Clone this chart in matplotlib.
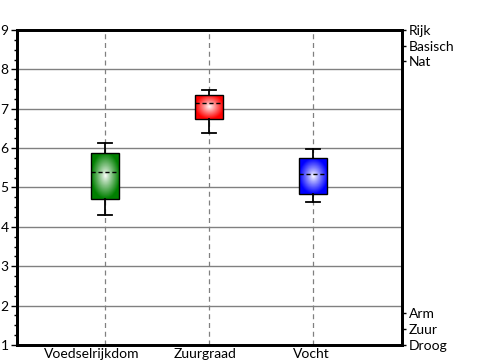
import numpy as np
import matplotlib.pyplot as plt
import matplotlib.transforms as mtrans
from matplotlib.ticker import MultipleLocator

plt.rcParams['font.family'] = ['Lato', 'DejaVu Sans']

# data
cats = ['Voedselrijkdom', 'Zuurgraad', 'Vocht']
whis_lo = [4.30, 6.39, 4.62]
q1 = [4.70, 6.73, 4.83]
med = [5.39, 7.14, 5.35]
q3 = [5.87, 7.35, 5.74]
whis_hi = [6.12, 7.47, 5.97]
cols = [(0.0, 0.5, 0.0), (1.0, 0.0, 0.0), (0.0, 0.0, 1.0)]
right_top = ['Rijk', 'Basisch', 'Nat']
right_bot = ['Arm', 'Zuur', 'Droog']

fig = plt.figure(figsize=(5, 3.6), dpi=100)
ax = fig.add_axes([0.034, 0.0417, 0.77, 0.875])

pos = np.arange(1, len(cats) + 1)
stats = []
for i in range(len(cats)):
    stats.append({'whislo': whis_lo[i], 'q1': q1[i], 'med': med[i],
                  'q3': q3[i], 'whishi': whis_hi[i], 'fliers': []})

bp = ax.bxp(stats, positions=pos, widths=0.27, patch_artist=True,
            showfliers=False,
            boxprops=dict(edgecolor='black', linewidth=1),
            medianprops=dict(color='black', linestyle=(0, (3, 2)), linewidth=1),
            whiskerprops=dict(color='black', linewidth=1.3),
            capprops=dict(color='black', linewidth=1.3),
            zorder=3)

# radial gradient fill
n = 60
yy, xx = np.mgrid[-1:1:n*1j, -1:1:n*1j]
r = np.clip(np.sqrt(xx**2 + yy**2), 0, 1)
for i, patch in enumerate(bp['boxes']):
    patch.set_facecolor('none')
    c = np.array(cols[i])
    t = r[..., None] ** 0.9
    img = (1 - t) * np.array([1, 1, 1]) + t * c
    x0 = pos[i] - 0.135
    im = ax.imshow(img, extent=[x0, x0 + 0.27, q1[i], q3[i]], aspect='auto',
                   zorder=2.5, interpolation='bilinear')
    im.set_clip_path(patch)

ax.set_xlim(0.154, 3.856)
ax.set_ylim(1, 9)
ax.set_xticks(pos)
ax.set_xticklabels(cats, fontsize=10)
ax.tick_params(axis='x', length=0, pad=2)
# labels sit a bit left of the category in the original
shifts = [-13, -4, -2]
for lab, dx in zip(ax.get_xticklabels(), shifts):
    lab.set_transform(lab.get_transform() + mtrans.ScaledTranslation(dx / 100, 0, fig.dpi_scale_trans))

ax.yaxis.set_major_locator(MultipleLocator(1))
ax.yaxis.set_minor_locator(MultipleLocator(0.25))
ax.tick_params(axis='y', which='major', length=4, width=1, labelsize=10, pad=2)
ax.tick_params(axis='y', which='minor', length=2, width=1)

for y in range(2, 9):
    ax.axhline(y, color='#808080', linewidth=1, zorder=1)
for x in pos:
    ax.axvline(x, color='#808080', linewidth=0.9, linestyle=(0, (4, 3)), zorder=1)

for s in ax.spines.values():
    s.set_linewidth(2)

ax2 = ax.twinx()
ax2.set_ylim(1, 9)
ax2.set_yticks([9, 8.6, 8.2, 1.8, 1.4, 1.0])
ax2.set_yticklabels(right_top + right_bot, fontsize=10)
ax2.tick_params(axis='y', length=3, width=1, pad=2)
for s in ax2.spines.values():
    s.set_linewidth(2)

fig.savefig('out.png', dpi=100)
